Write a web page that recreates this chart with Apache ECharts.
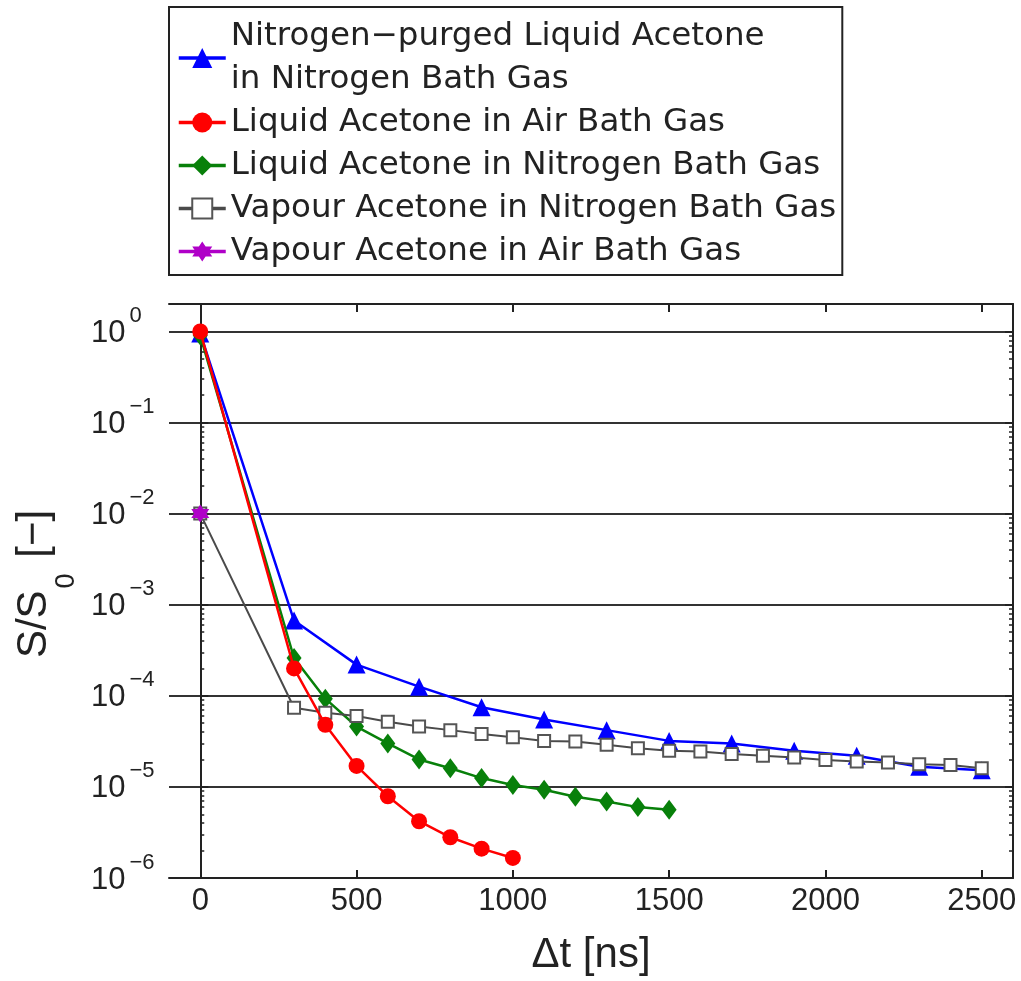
<!DOCTYPE html>
<html><head><meta charset="utf-8">
<script src="https://cdn.jsdelivr.net/npm/echarts@6/dist/echarts.min.js"></script>
<style>html,body{margin:0;padding:0;background:#fff}#c{width:1021px;height:981px}</style>
</head><body><div id="c"></div>
<script>
// ---- data ----
const seriesNames = [
  'Nitrogen\u2212purged Liquid Acetone\nin Nitrogen Bath Gas',
  'Liquid Acetone in Air Bath Gas',
  'Liquid Acetone in Nitrogen Bath Gas',
  'Vapour Acetone in Nitrogen Bath Gas',
  'Vapour Acetone in Air Bath Gas'
];
const blueX = [0, 300, 500, 700, 900, 1100, 1300, 1500, 1700, 1900, 2100, 2300, 2500];
const blueY = [0.95, 6.7e-4, 2.2e-4, 1.26e-4, 7.5e-5, 5.5e-5, 4.2e-5, 3.2e-5, 3.0e-5, 2.5e-5, 2.2e-5, 1.66e-5, 1.52e-5];
const redX = [0, 300, 400, 500, 600, 700, 800, 900, 1000];
const redY = [1.0, 2.0e-4, 4.8e-5, 1.7e-5, 7.9e-6, 4.2e-6, 2.8e-6, 2.1e-6, 1.66e-6];
const greenX = [0, 300, 400, 500, 600, 700, 800, 900, 1000, 1100, 1200, 1300, 1400, 1500];
const greenY = [0.9, 2.6e-4, 9.3e-5, 4.6e-5, 3.0e-5, 2.0e-5, 1.6e-5, 1.25e-5, 1.05e-5, 9.3e-6, 7.8e-6, 6.9e-6, 6.0e-6, 5.6e-6];
const grayX = [0, 300, 400, 500, 600, 700, 800, 900, 1000, 1100, 1200, 1300, 1400, 1500, 1600, 1700, 1800, 1900, 2000, 2100, 2200, 2300, 2400, 2500];
const grayY = [0.01, 7.4e-5, 6.5e-5, 6.0e-5, 5.2e-5, 4.6e-5, 4.2e-5, 3.8e-5, 3.5e-5, 3.2e-5, 3.15e-5, 2.9e-5, 2.65e-5, 2.5e-5, 2.45e-5, 2.3e-5, 2.2e-5, 2.1e-5, 1.97e-5, 1.9e-5, 1.85e-5, 1.77e-5, 1.74e-5, 1.6e-5];
const purpleX = [0];
const purpleY = [0.01];
const xTicks = [0, 500, 1000, 1500, 2000, 2500];
const yDecades = [1e-6, 1e-5, 1e-4, 1e-3, 1e-2, 1e-1, 1];
const yMinor = [];
for (let d = -6; d <= 0; d++) {
  for (let k = 2; k <= 9; k++) {
    const v = k * Math.pow(10, d);
    if (v <= 2) yMinor.push(v);
  }
}

function pairs(xs, ys) { return xs.map((x, i) => [x, ys[i]]); }

const FONT = 'Liberation Sans';
const AX = '#222';
const hexagram = 'path://M0,-10L2.9,-5L8.66,-5L5.8,0L8.66,5L2.9,5L0,10L-2.9,5L-8.66,5L-5.8,0L-8.66,-5L-2.9,-5Z';

function yFmt(v) {
  const l = Math.log10(v);
  const e = Math.round(l);
  if (Math.abs(l - e) > 1e-6) return '';
  const s = e < 0 ? '\u2212' + (-e) : String(e);
  return '{b|10}{e|' + s + '}';
}

const chart = echarts.init(document.getElementById('c'), null, { renderer: 'canvas' });
const yBase = { type: 'log', logBase: 10, min: 1e-6, max: 2, gridIndex: 0 };
chart.setOption({
  animation: false,
  backgroundColor: '#fff',
  grid: { left: 169, top: 304, width: 844, height: 575, containLabel: false },
  legend: {
    orient: 'vertical', left: 169, top: 7,
    padding: [8, 6, 2, 8], itemGap: 0,
    itemWidth: 47, itemHeight: 25,
    borderColor: '#222', borderWidth: 2, backgroundColor: '#fff',
    data: seriesNames,
    lineStyle: { width: 3.5 },
    textStyle: { fontFamily: 'DejaVu Sans', fontSize: 32.5, lineHeight: 43, color: '#222' },
    selectedMode: false
  },
  xAxis: [
    {
      type: 'value', min: -100, max: 2600, position: 'bottom',
      axisLine: { lineStyle: { color: AX, width: 2 } },
      axisTick: { inside: true, length: 8, customValues: xTicks, lineStyle: { color: AX, width: 2 } },
      axisLabel: { customValues: xTicks, formatter: v => String(v), fontFamily: FONT, fontSize: 31, color: AX, margin: 8 },
      splitLine: { show: false },
      name: '\u0394t [ns]', nameLocation: 'middle', nameGap: 56,
      nameTextStyle: { fontFamily: FONT, fontSize: 42, color: AX }
    },
    {
      type: 'value', min: -100, max: 2600, position: 'top',
      axisLine: { show: true, lineStyle: { color: AX, width: 2 } },
      axisTick: { inside: true, length: 8, customValues: xTicks, lineStyle: { color: AX, width: 2 } },
      axisLabel: { show: false },
      splitLine: { show: false }
    }
  ],
  yAxis: [
    Object.assign({}, yBase, {
      position: 'left',
      axisLine: { show: true, lineStyle: { color: AX, width: 2 } },
      axisTick: { inside: true, length: 8, customValues: yDecades, lineStyle: { color: AX, width: 2 } },
      axisLabel: {
        customValues: yDecades, formatter: yFmt, align: 'left', margin: 78,
        padding: [0, 0, 9, 0],
        rich: {
          b: { fontFamily: FONT, fontSize: 31, lineHeight: 34, color: AX, verticalAlign: 'bottom' },
          e: { fontFamily: FONT, fontSize: 22, color: AX, verticalAlign: 'top', padding: [0, 0, 22, 4] }
        }
      },
      splitLine: { show: true, lineStyle: { color: '#333', width: 2 } },
      name: '{a|S/S}{s|0}{a| [\u2212]}', nameLocation: 'middle', nameGap: 96, nameRotate: 90,
      nameTextStyle: {
        padding: [0, 0, 0, 14],
        rich: {
          a: { fontFamily: FONT, fontSize: 42, lineHeight: 46, color: AX, verticalAlign: 'top' },
          s: { fontFamily: FONT, fontSize: 27, lineHeight: 27, color: AX, verticalAlign: 'top', padding: [40, 4, 0, 2] }
        }
      }
    }),
    Object.assign({}, yBase, {
      position: 'left',
      axisLine: { show: false },
      axisTick: { inside: true, length: 4, customValues: yMinor, lineStyle: { color: AX, width: 1.5 } },
      axisLabel: { show: false }, splitLine: { show: false }
    }),
    Object.assign({}, yBase, {
      position: 'right',
      axisLine: { show: true, lineStyle: { color: AX, width: 2 } },
      axisTick: { inside: true, length: 8, customValues: yDecades, lineStyle: { color: AX, width: 2 } },
      axisLabel: { show: false }, splitLine: { show: false }
    }),
    Object.assign({}, yBase, {
      position: 'right',
      axisLine: { show: false },
      axisTick: { inside: true, length: 4, customValues: yMinor, lineStyle: { color: AX, width: 1.5 } },
      axisLabel: { show: false }, splitLine: { show: false }
    })
  ],
  series: [
    {
      name: seriesNames[0], type: 'line', data: pairs(blueX, blueY), z: 2,
      symbol: 'triangle', symbolSize: 18,
      itemStyle: { color: '#0000ff' }, lineStyle: { color: '#0000ff', width: 2.5 }
    },
    {
      name: seriesNames[1], type: 'line', data: pairs(redX, redY), z: 5,
      symbol: 'circle', symbolSize: 16,
      itemStyle: { color: '#ff0000' }, lineStyle: { color: '#ff0000', width: 2.5 }
    },
    {
      name: seriesNames[2], type: 'line', data: pairs(greenX, greenY), z: 3,
      symbol: 'diamond', symbolSize: [15, 20],
      itemStyle: { color: '#08800a' }, lineStyle: { color: '#08800a', width: 2.5 }
    },
    {
      name: seriesNames[3], type: 'line', data: pairs(grayX, grayY), z: 4,
      symbol: 'rect', symbolSize: 12,
      itemStyle: { color: '#ffffff', borderColor: '#555', borderWidth: 2 },
      lineStyle: { color: '#4a4a4a', width: 2 }
    },
    {
      name: seriesNames[4], type: 'line', data: pairs(purpleX, purpleY), z: 6,
      symbol: hexagram, symbolSize: 18,
      itemStyle: { color: '#b000c8' }, lineStyle: { color: '#b000c8', width: 2.5 }
    }
  ]
});
</script></body></html>
